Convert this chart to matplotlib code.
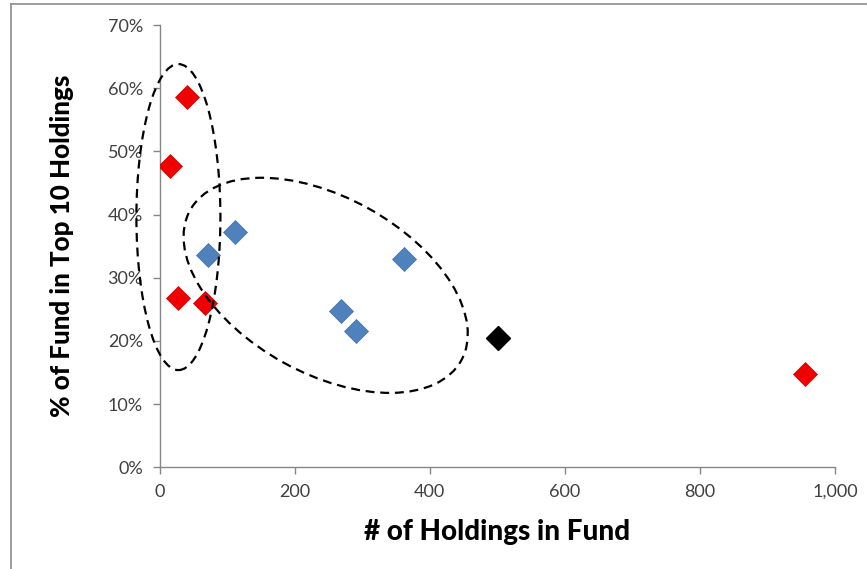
import matplotlib
matplotlib.use('Agg')
import matplotlib.pyplot as plt
from matplotlib.patches import Ellipse
from matplotlib.lines import Line2D
from matplotlib.ticker import FuncFormatter
from matplotlib.transforms import ScaledTranslation

plt.rcParams['font.family'] = ['Lato', 'DejaVu Sans']

# Fund holdings vs concentration in top 10 positions
red_holdings = [40, 15, 28, 68, 956]
red_top10 = [0.586, 0.477, 0.268, 0.260, 0.147]

blue_holdings = [112, 72, 362, 268, 291]
blue_top10 = [0.372, 0.336, 0.330, 0.247, 0.216]

black_holdings = [501]
black_top10 = [0.204]

x_ticks = [0, 200, 400, 600, 800, 1000]
y_ticks = [0.0, 0.1, 0.2, 0.3, 0.4, 0.5, 0.6, 0.7]

W, H = 867, 569
fig = plt.figure(figsize=(W / 100, H / 100), dpi=100)
ax = fig.add_axes([159.5 / W, (H - 467.3) / H, (835 - 159.5) / W, (467.3 - 25) / H])

ms = 12
ax.plot(red_holdings, red_top10, 'D', color='#F00000', ms=ms, mec='#D00000', mew=0.5, zorder=3)
ax.plot(blue_holdings, blue_top10, 'D', color='#4F81BD', ms=ms, mec='#3F6FA8', mew=0.5, zorder=3)
ax.plot(black_holdings, black_top10, 'D', color='#000000', ms=ms, zorder=3)

ax.set_xlim(0, 1000)
ax.set_ylim(0, 0.7)
ax.set_xticks(x_ticks)
ax.set_yticks(y_ticks)
ax.xaxis.set_major_formatter(FuncFormatter(lambda v, p: f'{int(v):,}'))
ax.yaxis.set_major_formatter(FuncFormatter(lambda v, p: f'{v * 100:.0f}%'))

for s in ['top', 'right']:
    ax.spines[s].set_visible(False)
for s in ['left', 'bottom']:
    ax.spines[s].set_color('#868686')
    ax.spines[s].set_linewidth(1)
ax.tick_params(axis='both', direction='out', length=5, width=1, color='#868686',
               labelsize=13, labelcolor='#404040', pad=7)

ax.set_xlabel('# of Holdings in Fund', fontsize=20, fontweight='black', labelpad=14)
ax.set_ylabel('% of Fund in Top 10 Holdings', fontsize=18.7, fontweight='black', labelpad=24)

# dashed ellipses sized in inches, anchored on data points
def ring(cx, cy, w, h, ang):
    tr = fig.dpi_scale_trans + ScaledTranslation(cx, cy, ax.transData)
    e = Ellipse((0, 0), w, h, angle=ang, transform=tr, fill=False, clip_on=False,
                ls=(0, (4, 2.6)), lw=1.6, ec='black', zorder=4)
    ax.add_patch(e)

ring(28, 0.396, 0.84, 3.06, 0)
ring(246, 0.288, 3.10, 1.76, -29)

# outer frame
fig.add_artist(Line2D([11 / W, 11 / W], [0, 1 - 4 / H], transform=fig.transFigure, color='#8C8C8C', lw=1.2))
fig.add_artist(Line2D([11 / W, 1], [1 - 4 / H, 1 - 4 / H], transform=fig.transFigure, color='#8C8C8C', lw=1.2))

fig.savefig('out.png', dpi=100)
